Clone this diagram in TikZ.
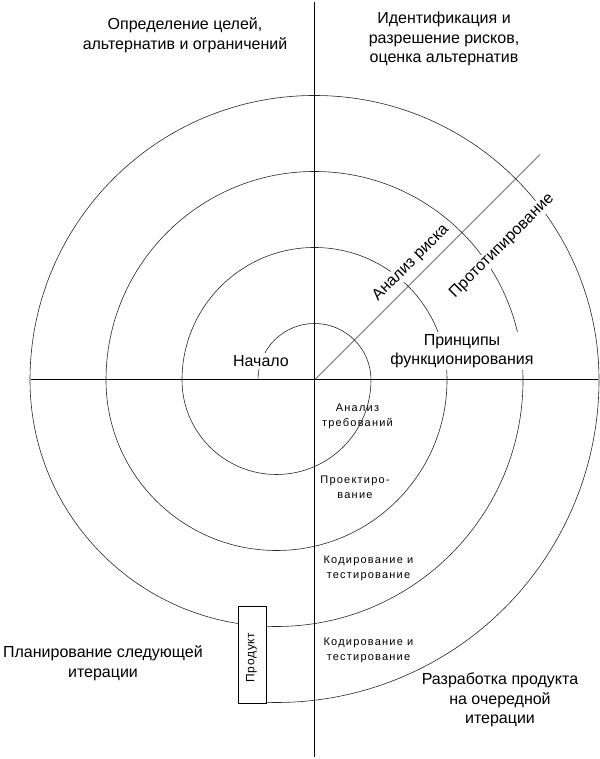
\documentclass[tikz,border=0pt]{standalone}
\usepackage{fontspec}
\setmainfont{Liberation Sans}
\newfontfamily\smallf[LetterSpace=11]{Liberation Sans}
\newfontfamily\prodf[LetterSpace=6]{Liberation Sans}
\usetikzlibrary{calc}
\tikzset{
  spiral/.style={line width=0.6pt, black!85},
  axis/.style={line width=1pt, black},
  diag/.style={line width=0.7pt, black!80},
  biglabel/.style={align=center, font=\fontsize{16}{19.5}\selectfont, inner sep=2pt},
  covered/.style={biglabel, fill=white},
  smalllabel/.style={align=center, font=\smallf\fontsize{11}{15}\selectfont, inner sep=0pt},
  prodbox/.style={draw, line width=0.8pt, fill=white, minimum width=28pt, minimum height=97pt, inner sep=0pt},
}
\begin{document}
\begin{tikzpicture}[x=1pt,y=1pt]
\useasboundingbox (0,0) rectangle (599,759);
\coordinate (C) at (314.5,379);
\coordinate (S) at (258,379);
% spiral
\draw[spiral] (S) arc[start angle=180,end angle=0,radius=56.5]
  arc[start angle=0,end angle=-180,radius=94.5]
  arc[start angle=180,end angle=0,radius=132.5]
  arc[start angle=0,end angle=-180,radius=170.5]
  arc[start angle=180,end angle=0,radius=208.5]
  arc[start angle=0,end angle=-180,radius=246.5]
  arc[start angle=180,end angle=0,radius=284.5]
  arc[start angle=0,end angle=-96.9,radius=322.5];
% labels that cover the spiral
\node[covered] (start) at (261,398) {Начало};
\node[covered] (princ) at (462,408) {Принципы\\функционирования};
\node[covered, rotate=45, inner sep=1pt] (risk) at (411,496) {Анализ риска};
\node[covered, rotate=45, inner sep=1pt] (proto) at (502,513) {Прототипирование};
% axes
\coordinate (HL) at (31,379);
\coordinate (HR) at (598,379);
\coordinate (VT) at (314.5,757);
\coordinate (VB) at (314.5,2);
\coordinate (D) at (540,604.5);
\draw[axis] (HL) -- (HR);
\draw[axis] (VT) -- (VB);
\draw[diag] (C) -- (D);
% product box
\node[prodbox] (prod) at (252,104.5) {};
\node[rotate=90, font=\prodf\fontsize{12}{14}\selectfont, inner sep=0pt] (prodtext) at (251.5,101.5) {Продукт};
% quadrant labels
\node[biglabel] (tl) at (185,724) {Определение целей,\\альтернатив и ограничений};
\node[biglabel] (tr) at (444,720) {Идентификация и\\разрешение рисков,\\оценка альтернатив};
\node[biglabel] (bl) at (103,96) {Планирование следующей\\итерации};
\node[biglabel] (br) at (500,59) {Разработка продукта\\на очередной\\итерации};
% small labels
\node[smalllabel] (req) at (357.5,342.5) {Анализ\\требований};
\node[smalllabel] (des) at (355,271.5) {Проектиро-\\вание};
\node[smalllabel] (code1) at (368.5,190.5) {Кодирование и\\тестирование};
\node[smalllabel] (code2) at (368.5,108.5) {Кодирование и\\тестирование};
\end{tikzpicture}
\end{document}
